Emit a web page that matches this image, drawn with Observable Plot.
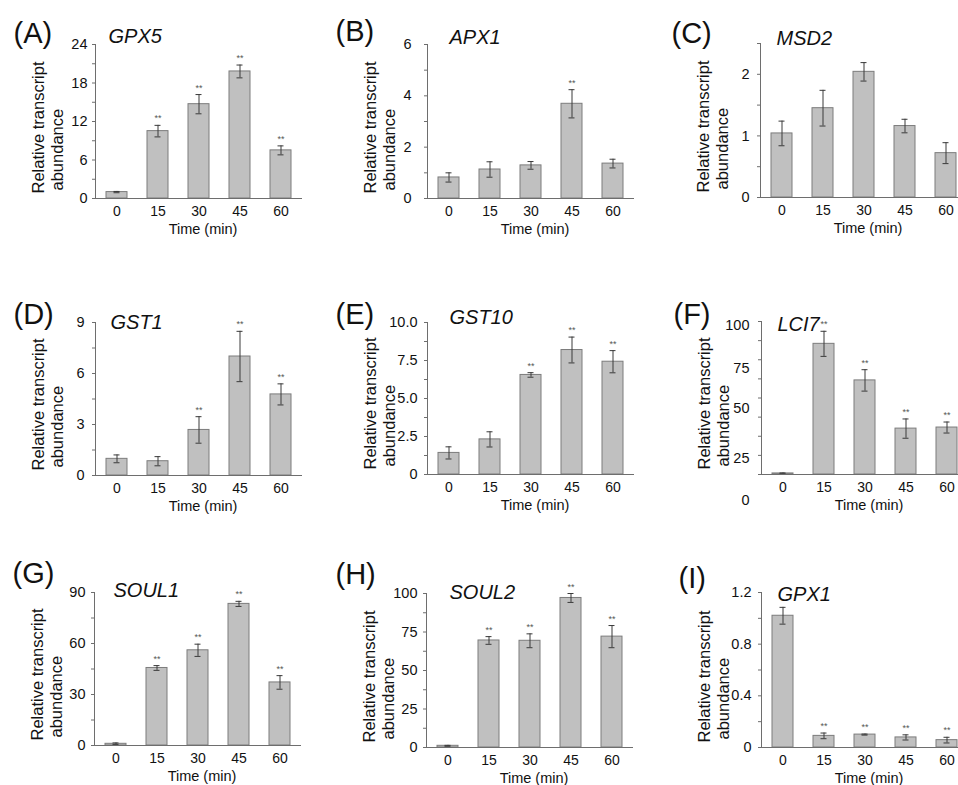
<!DOCTYPE html>
<html><head><meta charset="utf-8">
<script src="https://cdn.jsdelivr.net/npm/d3@7"></script>
<script src="https://cdn.jsdelivr.net/npm/@observablehq/plot@0.6"></script>
<style>
html,body{margin:0;padding:0;background:#fff;}
#fig{position:relative;width:958px;height:785px;overflow:hidden;background:#fff;font-family:"Liberation Sans",Arial,sans-serif;}
#fig > div{position:absolute;}
#fig svg{max-width:none !important;}
</style></head><body><div id="fig"></div>
<script>
// ---- data ----
const times = ["0", "15", "30", "45", "60"];

const gpx5Mean = [1.0, 10.5, 14.7, 19.8, 7.5];
const gpx5Err  = [0.1, 0.9, 1.5, 1.0, 0.7];
const gpx5Sig  = ["", "**", "**", "**", "**"];
const gpx5Ticks = [0, 6, 12, 18, 24];
const gpx5TickLabels = ["0", "6", "12", "18", "24"];
const gpx5Minor = [3, 9, 15, 21];

const apx1Mean = [0.82, 1.13, 1.29, 3.69, 1.36];
const apx1Err  = [0.18, 0.30, 0.15, 0.55, 0.17];
const apx1Sig  = ["", "", "", "**", ""];
const apx1Ticks = [0, 2, 4, 6];
const apx1TickLabels = ["0", "2", "4", "6"];
const apx1Minor = [1, 3, 5];

const msd2Mean = [1.04, 1.45, 2.04, 1.16, 0.72];
const msd2Err  = [0.20, 0.29, 0.15, 0.11, 0.17];
const msd2Sig  = ["", "", "", "", ""];
const msd2Ticks = [0, 1, 2];
const msd2TickLabels = ["0", "1", "2"];
const msd2Minor = [0.5, 1.5, 2.5];

const gst1Mean = [0.98, 0.84, 2.68, 7.0, 4.77];
const gst1Err  = [0.23, 0.27, 0.78, 1.48, 0.62];
const gst1Sig  = ["", "", "**", "**", "**"];
const gst1Ticks = [0, 3, 6, 9];
const gst1TickLabels = ["0", "3", "6", "9"];
const gst1Minor = [1.5, 4.5, 7.5];

const gst10Mean = [1.42, 2.31, 6.55, 8.19, 7.42];
const gst10Err  = [0.40, 0.50, 0.15, 0.85, 0.73];
const gst10Sig  = ["", "", "**", "**", "**"];
const gst10Ticks = [0, 2.5, 5, 7.5, 10];
const gst10TickLabels = ["0", "2.5", "5.0", "7.5", "10.0"];
const gst10Minor = [1.25, 3.75, 6.25, 8.75];

const lci7Mean = [0.7, 85.4, 61.5, 30.0, 30.7];
const lci7Err  = [0.3, 8.2, 7.0, 6.3, 3.6];
const lci7Sig  = ["", "**", "**", "**", "**"];
const lci7Ticks = [0, 25, 50, 75, 100];
const lci7TickLabels = ["0", "25", "50", "75", "100"];
const lci7LabelAt = [-16.7, 10.4, 43, 69.6, 97.8]; // labels drift from their ticks in the original
const lci7Minor = [12.5, 37.5, 62.5, 87.5];

const soul1Mean = [1.0, 45.6, 56.0, 83.3, 37.1];
const soul1Err  = [0.5, 1.4, 3.6, 1.5, 4.0];
const soul1Sig  = ["", "**", "**", "**", "**"];
const soul1Ticks = [0, 30, 60, 90];
const soul1TickLabels = ["0", "30", "60", "90"];
const soul1Minor = [15, 45, 75];

const soul2Mean = [1.1, 69.5, 69.3, 97.1, 72.0];
const soul2Err  = [0.3, 2.5, 4.5, 2.9, 7.2];
const soul2Sig  = ["", "**", "**", "**", "**"];
const soul2Ticks = [0, 25, 50, 75, 100];
const soul2TickLabels = ["0", "25", "50", "75", "100"];
const soul2Minor = [12.5, 37.5, 62.5, 87.5];

const gpx1Mean = [1.02, 0.09, 0.10, 0.078, 0.057];
const gpx1Err  = [0.065, 0.022, 0.004, 0.02, 0.022];
const gpx1Sig  = ["", "**", "**", "**", "**"];
const gpx1Ticks = [0, 0.4, 0.8, 1.2];
const gpx1TickLabels = ["0", "0.4", "0.8", "1.2"];
const gpx1Minor = [0.2, 0.6, 1.0];

const panels = [
  {letter: "(A)", gene: "GPX5", mean: gpx5Mean, err: gpx5Err, sig: gpx5Sig, domain: [0, 24], ticks: gpx5Ticks, labels: gpx5TickLabels, minor: gpx5Minor},
  {letter: "(B)", gene: "APX1", mean: apx1Mean, err: apx1Err, sig: apx1Sig, domain: [0, 6], ticks: apx1Ticks, labels: apx1TickLabels, minor: apx1Minor},
  {letter: "(C)", gene: "MSD2", mean: msd2Mean, err: msd2Err, sig: msd2Sig, domain: [0, 2.5], ticks: msd2Ticks, labels: msd2TickLabels, minor: msd2Minor},
  {letter: "(D)", gene: "GST1", mean: gst1Mean, err: gst1Err, sig: gst1Sig, domain: [0, 9], ticks: gst1Ticks, labels: gst1TickLabels, minor: gst1Minor},
  {letter: "(E)", gene: "GST10", mean: gst10Mean, err: gst10Err, sig: gst10Sig, domain: [0, 10], ticks: gst10Ticks, labels: gst10TickLabels, minor: gst10Minor},
  {letter: "(F)", gene: "LCI7", mean: lci7Mean, err: lci7Err, sig: lci7Sig, domain: [0, 100], ticks: lci7Ticks, labels: lci7TickLabels, labelAt: lci7LabelAt, minor: lci7Minor},
  {letter: "(G)", gene: "SOUL1", mean: soul1Mean, err: soul1Err, sig: soul1Sig, domain: [0, 90], ticks: soul1Ticks, labels: soul1TickLabels, minor: soul1Minor},
  {letter: "(H)", gene: "SOUL2", mean: soul2Mean, err: soul2Err, sig: soul2Sig, domain: [0, 100], ticks: soul2Ticks, labels: soul2TickLabels, minor: soul2Minor},
  {letter: "(I)", gene: "GPX1", mean: gpx1Mean, err: gpx1Err, sig: gpx1Sig, domain: [0, 1.2], ticks: gpx1Ticks, labels: gpx1TickLabels, minor: gpx1Minor}
];

// ---- layout (pixel placement of each panel's plot frame) ----
const layout = [
  {ax: 95,  top: 44,  base: 198, ldx: -82, ldy: -2,  gdx: 13, gdy: -2, pad: 5},
  {ax: 427, top: 44,  base: 198, ldx: -92, ldy: -4,  gdx: 22, gdy: -1, pad: 13},
  {ax: 760, top: 43,  base: 197, ldx: -89, ldy: -1,  gdx: 16, gdy: 1,  pad: 8},
  {ax: 95,  top: 322, base: 475, ldx: -82, ldy: 1,   gdx: 15, gdy: 6,  pad: 8},
  {ax: 427, top: 322, base: 474, ldx: -92, ldy: 1,   gdx: 22, gdy: 1,  pad: 7},
  {ax: 761, top: 321, base: 474, ldx: -88, ldy: 2,   gdx: 16, gdy: 9,  pad: 9},
  {ax: 94,  top: 592, base: 745, ldx: -82, ldy: -10, gdx: 19, gdy: 4,  pad: 6},
  {ax: 426, top: 593, base: 747, ldx: -91, ldy: -10, gdx: 23, gdy: 5,  pad: 6},
  {ax: 761, top: 592, base: 747, ldx: -83, ldy: -5,  gdx: 16, gdy: 8,  pad: 7}
];

const ML = 95, MT = 44, MB = 42, MR = 10, PLOTW = 207;
const FONT = "'Liberation Sans', Arial, Helvetica, sans-serif";
const fig = document.getElementById("fig");

panels.forEach((p, k) => {
  const L = layout[k];
  const data = times.map((t, i) => ({t, v: p.mean[i], e: p.err[i], s: p.sig[i]}));
  const fmt = d => p.labels[p.ticks.indexOf(d)];
  const marks = [
    Plot.barY(data, {x: "t", y: "v", fill: "#c0c0c0", stroke: "#7c7c7c", strokeWidth: 1}),
    Plot.ruleX(data, {x: "t", y1: d => d.v - d.e, y2: d => d.v + d.e, stroke: "#3a3a3a", strokeWidth: 1}),
    Plot.tickY(data, {x: "t", y: d => d.v + d.e, stroke: "#3a3a3a", insetLeft: 7.5, insetRight: 7.5}),
    Plot.tickY(data, {x: "t", y: d => d.v - d.e, stroke: "#3a3a3a", insetLeft: 7.5, insetRight: 7.5}),
    Plot.text(data.filter(d => d.s), {x: "t", y: d => d.v + d.e, text: "s", dy: -4, lineAnchor: "bottom", fontSize: 9, fill: "#555"}),
    Plot.ruleY([0], {stroke: "#6e6e6e"}),
    Plot.frame({anchor: "left", stroke: "#6e6e6e"}),
    Plot.axisY(p.ticks, {tickSize: 3, tickPadding: L.pad, fontSize: 14.5, stroke: "#6e6e6e", fill: "#111",
      tickFormat: p.labelAt ? () => "" : fmt, label: null}),
    Plot.axisY(p.minor, {tickSize: 3, tickFormat: () => "", stroke: "#6e6e6e", label: null}),
    Plot.axisX({tickSize: 0, tickPadding: 8, fontSize: 14, fill: "#111", label: null}),
    Plot.text(["Time (min)"], {text: d => d, frameAnchor: "bottom", lineAnchor: "bottom", dx: 4, dy: 35, fontSize: 14.5, fill: "#111"}),
    Plot.text(["Relative transcript"], {text: d => d, frameAnchor: "bottom-left", rotate: -90, textAnchor: "start", lineAnchor: "bottom", dx: -52, dy: -5, fontSize: 16.5, fill: "#111"}),
    Plot.text(["abundance"], {text: d => d, frameAnchor: "bottom-left", rotate: -90, textAnchor: "start", lineAnchor: "bottom", dx: -33, dy: -8, fontSize: 16.5, fill: "#111"}),
    Plot.text([p.letter], {text: d => d, frameAnchor: "top-left", textAnchor: "start", lineAnchor: "bottom", dx: L.ldx, dy: L.ldy, fontSize: 29, fill: "#111"}),
    Plot.text([p.gene], {text: d => d, frameAnchor: "top-left", textAnchor: "start", lineAnchor: "bottom", dx: L.gdx, dy: L.gdy, fontSize: 20, fontStyle: "italic", fill: "#111"})
  ];
  if (p.labelAt) {
    const lab = p.labels.map((s, i) => ({s, y: p.labelAt[i]}));
    marks.push(Plot.text(lab, {frameAnchor: "left", y: "y", text: "s", textAnchor: "end", dx: -12, fontSize: 14.5, fill: "#111"}));
  }
  const w = ML + PLOTW + MR;
  const h = MT + (L.base - L.top) + MB;
  const chart = Plot.plot({
    width: w,
    height: h,
    marginLeft: ML, marginRight: MR, marginTop: MT, marginBottom: MB,
    x: {type: "band", domain: times, paddingInner: 0.49, paddingOuter: 0.25},
    y: {domain: p.domain},
    style: {fontFamily: FONT, fontSize: "14px", color: "#111", background: "transparent", overflow: "visible", maxWidth: "none"},
    marks
  });
  const wrap = document.createElement("div");
  wrap.style.left = (L.ax - ML) + "px";
  wrap.style.top = (L.top - MT) + "px";
  wrap.style.width = w + "px";
  wrap.style.height = h + "px";
  wrap.appendChild(chart);
  fig.appendChild(wrap);
});
</script>
</body></html>
